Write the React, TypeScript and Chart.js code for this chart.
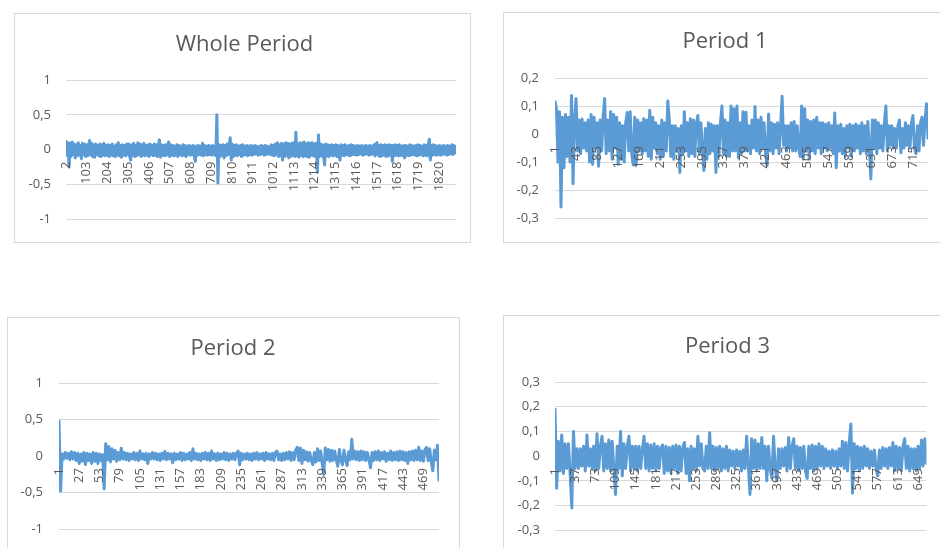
import React, { useEffect, useRef } from 'react';
import { Chart, registerables } from 'chart.js';

Chart.register(...registerables);

const FONT = "'Open Sans', sans-serif";
const LINE_COLOR = '#5B9BD5';
const TEXT_COLOR = '#595959';
const GRID_COLOR = '#D9D9D9';

// ---- tick labels (category numbers shown on the horizontal axes) ----
const wholeTickLabels = [2, 103, 204, 305, 406, 507, 608, 709, 810, 911, 1012, 1113, 1214, 1315, 1416, 1517, 1618, 1719, 1820];
const period1TickLabels = [1, 43, 85, 127, 169, 211, 253, 295, 337, 379, 421, 463, 505, 547, 589, 631, 673, 715];
const period2TickLabels = [1, 27, 53, 79, 105, 131, 157, 183, 209, 235, 261, 287, 313, 339, 365, 391, 417, 443, 469];
const period3TickLabels = [1, 37, 73, 109, 145, 181, 217, 253, 289, 325, 361, 397, 433, 469, 505, 541, 577, 613, 649];

// ---- series values (one value every `step` categories) ----
const wholeFirst = 2;
const wholeStep = 5;
const wholeValues = [
  0.12, -0.08, 0.1, -0.25, 0.09, -0.1, 0.11, -0.07, 0.08, -0.12, 0.07, -0.09, 0.1, -0.08, 0.06, -0.13, 0.09, -0.07, 0.08, -0.1,
  0.07, -0.09, 0.06, 0.13, -0.08, 0.09, -0.1, 0.07, -0.11, 0.08, -0.07, 0.06, -0.09, 0.08, -0.1, 0.07, -0.08, 0.09, -0.09, 0.06,
  -0.08, 0.07, -0.1, 0.06, -0.08, 0.08, -0.09, 0.05, -0.1, 0.07, -0.08, 0.1, -0.09, 0.06, -0.11, 0.07, -0.08, 0.06, -0.09, 0.08,
  -0.07, 0.08, -0.09, -0.15, 0.07, -0.08, 0.09, -0.1, 0.06, -0.09, 0.1, -0.07, 0.08, -0.1, 0.07, -0.08, 0.09, -0.09, 0.06, -0.08,
  0.07, -0.1, 0.08, -0.07, 0.06, -0.09, 0.08, -0.08, 0.07, -0.1, 0.06, 0.14, -0.11, 0.07, -0.08, 0.06, -0.09, 0.07, -0.08, 0.06,
  0.11, -0.1, 0.07, -0.08, 0.06, -0.09, 0.05, -0.08, 0.07, -0.1, 0.06, -0.07, 0.05, -0.09, 0.07, -0.08, 0.06, -0.1, 0.05, -0.07,
  0.06, -0.08, 0.05, -0.07, 0.06, -0.09, -0.17, 0.05, -0.08, 0.06, -0.07, 0.05, -0.08, 0.09, -0.09, 0.06, -0.07, 0.05, -0.08, 0.06,
  -0.07, 0.05, -0.08, 0.06, -0.07, 0.05, -0.09, 0.5, -0.48, 0.07, -0.1, 0.06, -0.08, 0.07, -0.12, 0.06, -0.09, 0.08, -0.07, 0.06,
  0.17, -0.15, 0.08, -0.1, 0.06, -0.08, 0.07, -0.09, 0.05, -0.07, 0.06, -0.1, 0.07, -0.08, 0.05, -0.07, 0.06, -0.09, 0.05, -0.07,
  0.06, -0.08, 0.05, -0.07, 0.06, -0.06, 0.05, -0.08, 0.04, -0.07, 0.06, -0.06, 0.05, -0.08, 0.06, -0.07, 0.05, -0.06, 0.04, -0.07,
  0.07, -0.08, 0.06, -0.09, 0.08, -0.07, 0.1, -0.1, 0.07, -0.09, 0.09, -0.15, 0.08, -0.1, 0.1, -0.08, 0.09, -0.12, 0.08, -0.1,
  0.09, -0.08, 0.1, -0.1, 0.25, -0.09, 0.08, -0.11, 0.1, -0.08, 0.09, -0.1, 0.11, -0.09, 0.08, -0.1, 0.1, -0.11, 0.09, -0.08,
  0.1, -0.09, 0.08, -0.1, 0.09, -0.33, 0.21, -0.1, 0.08, -0.09, 0.07, -0.1, -0.22, 0.08, -0.09, 0.07, -0.1, 0.06, -0.08, 0.07,
  -0.09, 0.06, -0.08, 0.07, -0.1, 0.06, -0.09, -0.15, 0.07, -0.08, 0.06, -0.09, 0.07, -0.07, 0.05, -0.08, 0.06, -0.09, 0.07, -0.07,
  0.06, -0.07, 0.05, -0.08, 0.06, -0.07, 0.05, -0.06, 0.06, -0.08, 0.05, -0.07, 0.06, -0.06, 0.05, -0.08, 0.06, -0.07, 0.05, -0.06,
  0.07, -0.09, 0.08, 0.1, -0.08, 0.06, -0.1, 0.07, -0.09, 0.06, -0.08, 0.07, -0.1, 0.06, -0.09, 0.07, -0.08, 0.06, -0.17, 0.06,
  -0.09, 0.07, -0.08, 0.06, -0.09, 0.07, -0.08, 0.05, -0.09, 0.06, -0.12, 0.06, -0.08, 0.05, -0.09, 0.07, -0.08, 0.06, -0.07, 0.05,
  -0.08, 0.06, -0.09, 0.07, -0.08, 0.06, -0.07, 0.05, -0.09, 0.07, -0.08, 0.06, -0.09, 0.07, 0.15, -0.15, 0.06, -0.08, 0.07, -0.07,
  0.06, -0.08, 0.05, -0.07, 0.06, -0.08, 0.05, -0.07, 0.06, -0.06, 0.05, -0.08, 0.06, -0.07, 0.05, -0.06, 0.07, -0.07, 0.06, -0.05,
  0.04,
];

const period1First = 1;
const period1Step = 3;
const period1Values = [
  0.115, 0.09, -0.1, 0.08, -0.26, 0.06, -0.12, 0.07, -0.08, 0.06, -0.1, 0.138, -0.177, 0.05, 0.127, -0.06, 0.05, -0.07, 0.054, -0.05,
  0.04, -0.06, 0.05, -0.1, 0.07, -0.108, 0.06, -0.05, 0.04, -0.115, 0.05, -0.06, 0.06, 0.127, -0.07, 0.05, -0.06, 0.08, -0.09, 0.07,
  -0.05, 0.06, -0.108, 0.04, -0.09, 0.03, -0.1, 0.04, 0.077, -0.06, 0.08, -0.07, -0.11, 0.06, -0.11, 0.05, -0.06, 0.04, -0.07, 0.055,
  -0.06, 0.05, -0.08, 0.085, -0.09, 0.06, -0.05, 0.04, -0.07, 0.03, -0.09, 0.05, -0.08, 0.04, -0.06, 0.118, 0.05, -0.08, 0.03, -0.09,
  0.03, -0.06, 0.02, -0.137, 0.03, -0.07, 0.08, -0.06, 0.04, -0.08, 0.055, -0.07, 0.05, -0.08, 0.04, 0.066, -0.07, 0.04, -0.05, -0.13,
  0.02, -0.09, 0.04, -0.07, 0.035, -0.06, 0.03, -0.137, 0.03, -0.08, 0.04, 0.1, -0.07, 0.05, -0.08, 0.04, -0.08, 0.1, -0.06, 0.09,
  -0.06, 0.1, -0.085, 0.04, -0.07, 0.08, -0.06, 0.078, -0.06, 0.03, -0.07, 0.05, -0.05, 0.098, -0.06, 0.05, -0.07, 0.06, -0.05, 0.04,
  -0.07, -0.113, 0.072, -0.06, 0.04, -0.07, 0.035, -0.05, 0.04, -0.07, 0.03, 0.135, -0.04, 0.03, -0.06, 0.03, -0.05, 0.04, -0.06, 0.045,
  -0.06, 0.03, -0.05, -0.08, 0.1, -0.09, 0.09, -0.06, 0.05, -0.09, 0.045, -0.06, 0.05, -0.07, 0.06, -0.05, 0.04, -0.07, 0.04, -0.05,
  0.035, -0.06, 0.04, -0.05, 0.03, -0.07, 0.075, -0.12, 0.03, -0.06, 0.035, -0.07, 0.02, -0.08, 0.03, -0.05, 0.035, -0.08, 0.03, -0.06,
  0.036, -0.05, 0.03, -0.07, 0.04, -0.06, 0.03, -0.07, 0.045, -0.05, -0.16, 0.05, -0.05, 0.05, -0.07, 0.04, -0.05, 0.03, -0.06, 0.04,
  0.1, -0.06, 0.03, -0.04, 0.03, -0.05, 0.02, -0.05, 0.03, 0.05, -0.067, 0.02, -0.05, 0.04, -0.04, 0.03, -0.05, 0.04, 0.066, -0.05,
  -0.07, 0.03, -0.06, 0.04, 0.06, -0.04, 0.05, 0.108, -0.015,
];

const period2First = 1;
const period2Step = 2;
const period2Values = [
  0.48, -0.48, 0.03, -0.04, 0.05, -0.03, 0.04, -0.05, 0.06, -0.04, 0.05, -0.06, 0.04, -0.1, 0.03, -0.07, 0.05, -0.115, 0.04, -0.06,
  0.03, -0.1, 0.05, -0.07, 0.04, -0.1, 0.03, -0.06, 0.02, -0.45, 0.17, -0.05, 0.13, -0.08, 0.1, -0.04, 0.08, -0.07, 0.05, -0.05,
  0.107, -0.04, 0.05, -0.05, 0.04, -0.06, 0.03, -0.04, 0.05, -0.05, 0.04, -0.06, 0.07, -0.04, 0.03, -0.05, 0.04, -0.1, 0.03, -0.04,
  0.05, -0.04, 0.04, -0.05, 0.03, -0.06, 0.04, -0.04, 0.065, -0.05, 0.04, -0.04, 0.03, -0.09, 0.04, -0.05, 0.03, -0.04, 0.05, -0.06,
  0.04, -0.05, 0.03, -0.04, 0.05, -0.06, 0.1, -0.04, 0.04, -0.05, 0.03, -0.06, 0.04, -0.04, 0.05, -0.05, 0.04, -0.06, 0.07, -0.04,
  0.03, -0.06, 0.04, -0.05, 0.03, -0.04, 0.05, -0.05, 0.04, -0.06, 0.03, -0.04, 0.04, -0.05, 0.04, 0.07, -0.12, 0.04, -0.05, 0.03,
  -0.04, 0.04, -0.05, 0.03, -0.06, 0.04, -0.04, 0.05, -0.05, 0.03, -0.04, 0.04, -0.06, 0.05, -0.04, 0.03, -0.05, 0.04, -0.06, 0.05,
  0.07, -0.05, 0.03, -0.06, 0.04, -0.05, 0.05, -0.04, 0.06, -0.06, 0.05, -0.05, 0.08, 0.12, -0.06, 0.11, -0.1, 0.08, -0.05, 0.06,
  -0.07, 0.05, -0.06, -0.115, 0.05, -0.08, 0.1, -0.06, 0.07, -0.1, -0.25, 0.11, -0.05, 0.09, -0.07, 0.08, -0.06, 0.07, -0.05, -0.14,
  0.09, -0.06, -0.12, 0.08, -0.05, -0.13, 0.06, -0.05, 0.23, -0.04, 0.07, -0.05, 0.06, -0.06, 0.07, -0.05, 0.06, -0.06, 0.05, -0.05,
  -0.16, 0.05, -0.06, 0.06, -0.05, 0.07, -0.06, 0.05, -0.04, 0.06, -0.07, 0.04, -0.05, 0.07, -0.06, 0.05, -0.05, 0.06, -0.06, 0.07,
  -0.05, 0.06, -0.06, 0.05, -0.1, 0.06, -0.05, 0.07, -0.06, 0.08, -0.05, 0.12, -0.06, 0.07, -0.07, 0.09, 0.12, -0.06, 0.1, -0.07,
  -0.2, 0.08, -0.05, 0.15, -0.33,
];

const period3First = 1;
const period3Step = 3;
const period3Values = [
  0.19, -0.13, 0.06, -0.06, 0.085, -0.07, 0.05, -0.05, 0.05, -0.07, -0.21, 0.1, -0.05, 0.03, -0.05, 0.03, -0.04, 0.04, -0.06, 0.085,
  -0.04, 0.03, -0.05, 0.04, -0.06, 0.09, -0.05, 0.04, 0.08, -0.06, 0.05, -0.05, 0.065, -0.06, 0.06, -0.05, -0.155, 0.04, -0.05, 0.1,
  -0.08, 0.05, -0.05, 0.04, 0.08, -0.06, 0.04, -0.05, 0.04, -0.06, 0.04, -0.05, 0.03, 0.08, -0.05, 0.05, -0.06, 0.045, -0.05, 0.05,
  -0.06, 0.04, -0.05, 0.035, 0.045, -0.07, 0.04, -0.06, 0.035, -0.07, 0.04, -0.05, 0.045, -0.07, 0.04, -0.06, 0.035, 0.055, -0.07, 0.03,
  -0.1, 0.04, -0.05, 0.03, -0.06, 0.08, -0.04, 0.05, -0.05, -0.06, 0.04, -0.05, 0.095, -0.05, 0.04, -0.06, 0.035, -0.05, 0.04, -0.06,
  0.03, -0.05, 0.04, -0.06, 0.025, -0.04, 0.02, -0.05, 0.025, -0.04, 0.02, -0.06, 0.025, -0.05, 0.08, -0.04, -0.155, 0.07, -0.05, 0.065,
  -0.06, 0.05, -0.05, 0.075, -0.05, 0.04, -0.1, 0.04, -0.05, -0.09, 0.08, -0.05, -0.1, 0.03, -0.05, 0.03, -0.04, 0.035, -0.06, 0.075,
  -0.05, 0.04, 0.07, -0.05, 0.04, -0.06, 0.035, -0.05, 0.04, -0.06, -0.09, 0.04, -0.05, 0.045, -0.06, 0.04, -0.05, 0.05, -0.04, 0.04,
  -0.05, 0.03, -0.04, 0.02, -0.05, 0.025, -0.04, 0.02, -0.05, 0.03, -0.04, 0.06, -0.05, 0.055, -0.06, 0.05, 0.13, -0.15, 0.05, -0.05,
  0.04, -0.06, 0.035, -0.05, 0.04, -0.04, 0.03, -0.05, 0.02, -0.04, 0.025, -0.05, -0.08, 0.025, -0.05, 0.035, -0.04, 0.03, -0.05, 0.035,
  -0.04, 0.055, -0.06, 0.04, -0.05, 0.035, -0.06, 0.04, 0.07, -0.05, 0.04, -0.06, 0.03, -0.05, 0.03, -0.06, 0.04, -0.05, 0.065, -0.04,
  0.07, -0.03,
];

type Pad = { left: number; right: number; top: number; bottom: number };
type PanelSpec = {
  title: string;
  values: number[];
  first: number;
  step: number;
  ticks: number[];
  yMin: number;
  yMax: number;
  yStep: number;
  left: number;
  top: number;
  width: number;
  height: number;
  pad: Pad;
  axisWidth: number;
  rightSpace: number;
  yLabelGap: number;
  titleTop: number;
  titleBottom: number;
};

const panels: PanelSpec[] = [
  {
    title: 'Whole Period', values: wholeValues, first: wholeFirst, step: wholeStep, ticks: wholeTickLabels,
    yMin: -1, yMax: 1, yStep: 0.5,
    left: 14, top: 13, width: 457, height: 230,
    pad: { left: 4, right: 0, top: 0, bottom: 19 }, axisWidth: 47, rightSpace: 14, yLabelGap: 15,
    titleTop: 17.5, titleBottom: 22.1,
  },
  {
    title: 'Period 1', values: period1Values, first: period1First, step: period1Step, ticks: period1TickLabels,
    yMin: -0.3, yMax: 0.2, yStep: 0.1,
    left: 503, top: 12, width: 444, height: 231,
    pad: { left: 0, right: 0, top: 0, bottom: 20 }, axisWidth: 51, rightSpace: 18, yLabelGap: 16,
    titleTop: 16, titleBottom: 22.6,
  },
  {
    title: 'Period 2', values: period2Values, first: period2First, step: period2Step, ticks: period2TickLabels,
    yMin: -1, yMax: 1, yStep: 0.5,
    left: 7, top: 317, width: 453, height: 237,
    pad: { left: 0, right: 1, top: 0, bottom: 20 }, axisWidth: 51, rightSpace: 19, yLabelGap: 16,
    titleTop: 17.5, titleBottom: 21.1,
  },
  {
    title: 'Period 3', values: period3Values, first: period3First, step: period3Step, ticks: period3TickLabels,
    yMin: -0.3, yMax: 0.3, yStep: 0.1,
    left: 503, top: 315, width: 444, height: 239,
    pad: { left: 5, right: 0, top: 0, bottom: 18 }, axisWidth: 46, rightSpace: 13, yLabelGap: 15,
    titleTop: 17.5, titleBottom: 22.1,
  },
];

function formatY(v: number): string {
  const r = Math.round(v * 100) / 100;
  return String(r === 0 ? 0 : r).replace('.', ',');
}

function Panel({ spec }: { spec: PanelSpec }) {
  const ref = useRef<HTMLCanvasElement>(null);

  useEffect(() => {
    if (!ref.current) return;
    const points = spec.values.map((y, i) => ({ x: spec.first + i * spec.step, y }));
    const lastX = spec.first + (spec.values.length - 1) * spec.step;
    const chart = new Chart(ref.current, {
      type: 'line',
      data: {
        datasets: [
          {
            data: points,
            borderColor: LINE_COLOR,
            backgroundColor: LINE_COLOR,
            borderWidth: 3,
            borderJoinStyle: 'round',
            borderCapStyle: 'round',
            pointRadius: 0,
            tension: 0,
            fill: false,
            yAxisID: 'y',
          },
        ],
      },
      options: {
        responsive: false,
        animation: false,
        devicePixelRatio: 1,
        events: [],
        layout: { padding: spec.pad },
        plugins: {
          legend: { display: false },
          tooltip: { enabled: false },
          title: {
            display: true,
            text: spec.title,
            color: TEXT_COLOR,
            font: { family: FONT, size: 22, weight: 'normal', lineHeight: 1.2 },
            padding: { top: spec.titleTop, bottom: spec.titleBottom },
          },
        },
        scales: {
          x: {
            type: 'linear',
            min: spec.first,
            max: lastX,
            position: { y: 0 },
            grid: { display: false, drawTicks: false },
            border: { display: false },
            afterBuildTicks: (axis: any) => {
              axis.ticks = spec.ticks.map((v) => ({ value: v }));
            },
            ticks: {
              z: 1,
              autoSkip: false,
              minRotation: 90,
              maxRotation: 90,
              padding: 12,
              color: TEXT_COLOR,
              font: { family: FONT, size: 13 },
              callback: (v: any) => String(v),
            },
          },
          y: {
            position: 'left',
            min: spec.yMin,
            max: spec.yMax,
            afterFit: (axis: any) => {
              axis.width = spec.axisWidth;
            },
            grid: { color: GRID_COLOR, lineWidth: 1, drawTicks: false },
            border: { display: false },
            ticks: {
              stepSize: spec.yStep,
              padding: spec.yLabelGap,
              color: TEXT_COLOR,
              font: { family: FONT, size: 13 },
              callback: (v: any) => formatY(Number(v)),
            },
          },
          spacer: {
            type: 'linear',
            position: 'right',
            display: true,
            grid: { display: false, drawTicks: false },
            border: { display: false },
            ticks: { display: false },
            afterFit: (axis: any) => {
              axis.width = spec.rightSpace;
            },
          },
        },
      } as any,
    });
    return () => chart.destroy();
  }, [spec]);

  return (
    <div
      style={{
        position: 'absolute',
        left: spec.left,
        top: spec.top,
        width: spec.width,
        height: spec.height,
        border: '1px solid #D9D9D9',
        boxSizing: 'border-box',
        background: '#FFFFFF',
      }}
    >
      <canvas ref={ref} width={spec.width - 2} height={spec.height - 2} style={{ display: 'block' }} />
    </div>
  );
}

export default function App() {
  return (
    <div
      style={{
        position: 'absolute',
        left: 0,
        top: 0,
        width: 940,
        height: 548,
        overflow: 'hidden',
        background: '#FFFFFF',
      }}
    >
      {panels.map((p) => (
        <Panel key={p.title} spec={p} />
      ))}
    </div>
  );
}
